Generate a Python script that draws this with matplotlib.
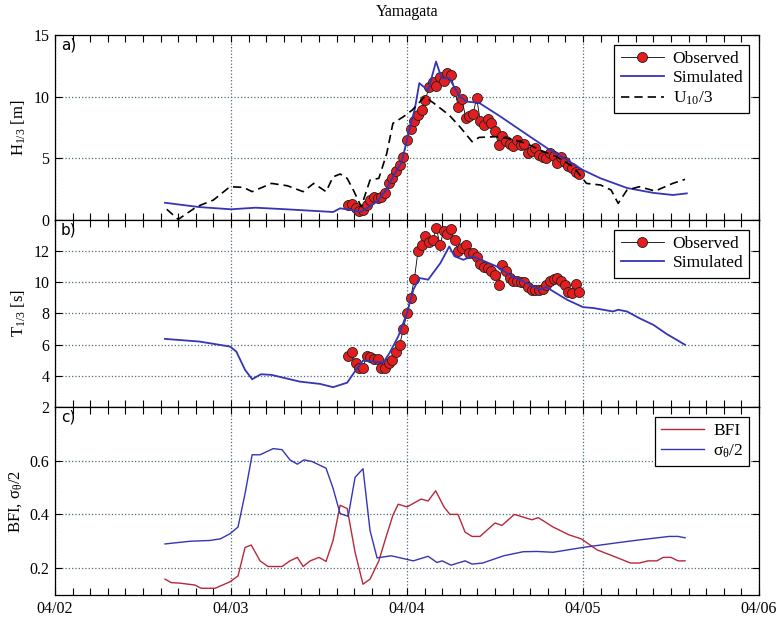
import numpy as np
import matplotlib
matplotlib.use('Agg')
import matplotlib.pyplot as plt
from matplotlib.ticker import MultipleLocator

plt.rcParams['font.family'] = ['Liberation Serif', 'DejaVu Serif']
plt.rcParams['mathtext.fontset'] = 'custom'
plt.rcParams['mathtext.rm'] = 'Liberation Serif'
plt.rcParams['mathtext.it'] = 'Liberation Serif:italic'

# time axis: days since 04/02 00:00
day_ticks = [0, 1, 2, 3, 4]
day_labels = ['04/02', '04/03', '04/04', '04/05', '04/06']

# observations every 30 min from 04/03 16:00
obs_t = np.arange(40.0, 72.0, 0.5) / 24.0
obs_h = [1.2, 1.3, 1.0, 0.7, 0.8, 1.2, 1.6, 1.9, 1.8, 1.9,
         2.2, 3.0, 3.4, 4.0, 4.5, 5.1, 6.5, 7.4, 8.0, 8.5,
         8.9, 9.7, 10.8, 11.2, 10.9, 11.6, 11.3, 11.9, 11.8, 10.5,
         9.2, 9.8, 8.3, 8.4, 8.6, 9.9, 8.0, 7.7, 8.2, 7.9,
         7.2, 6.1, 6.8, 6.4, 6.2, 6.0, 6.5, 6.1, 6.2, 5.4,
         5.6, 5.8, 5.3, 5.1, 5.0, 5.4, 5.2, 4.6, 5.1, 4.7,
         4.4, 4.2, 3.9, 3.7]
obs_tp = [5.3, 5.5, 4.8, 4.5, 4.5, 5.3, 5.2, 5.1, 5.1, 4.5,
          4.5, 4.8, 5.0, 5.5, 6.0, 7.0, 8.0, 9.0, 10.2, 12.0,
          12.4, 13.0, 12.6, 12.7, 13.5, 12.4, 13.3, 13.1, 13.4, 12.7,
          12.0, 12.2, 12.4, 11.9, 11.9, 11.6, 11.2, 11.0, 10.9, 10.7,
          10.5, 9.8, 11.1, 10.7, 10.3, 10.1, 10.1, 10.0, 10.0, 9.7,
          9.5, 9.5, 9.5, 9.6, 9.8, 10.1, 10.2, 10.3, 10.1, 9.8,
          9.4, 9.3, 9.9, 9.4]

sim_h_t = [0.625, 0.82, 1.0, 1.14, 1.34, 1.58, 1.62, 1.69, 1.74, 1.83, 1.88, 1.92, 1.97,
           2.006, 2.045, 2.07, 2.12, 2.165, 2.197, 2.24, 2.30, 2.34, 2.41, 2.53, 2.70,
           2.81, 2.91, 3.0, 3.10, 3.25, 3.40, 3.51, 3.59]
sim_h = [1.4, 1.05, 0.87, 1.0, 0.85, 0.65, 0.95, 0.8, 0.67, 1.5, 2.4, 3.5, 4.7,
         6.9, 9.05, 11.1, 10.5, 12.85, 11.5, 11.5, 10.0, 9.6, 9.5, 8.4, 6.75,
         5.7, 4.87, 4.05, 3.38, 2.6, 2.2, 2.03, 2.16]

u10_t = [0.635, 0.70, 0.805, 0.90, 0.994, 1.07, 1.12, 1.23, 1.32, 1.41, 1.47, 1.54, 1.58,
         1.62, 1.66, 1.695, 1.74, 1.79, 1.84, 1.885, 1.92, 1.98, 2.03, 2.10, 2.15, 2.24,
         2.30, 2.37, 2.41, 2.51, 2.585, 2.68, 2.755, 2.85, 2.945, 3.02, 3.10, 3.16, 3.20,
         3.25, 3.32, 3.41, 3.51, 3.58]
u10 = [0.87, 0.05, 1.08, 1.62, 2.7, 2.65, 2.3, 2.97, 2.78, 2.3, 2.97, 2.3, 3.5,
       3.73, 3.38, 2.43, 1.08, 3.24, 3.38, 5.4, 7.84, 8.38, 8.92, 10.0, 9.5, 8.5,
       7.57, 6.35, 6.7, 6.76, 6.6, 6.2, 5.68, 5.13, 4.32, 2.97, 2.84, 2.43, 1.35,
       2.43, 2.7, 2.35, 2.97, 3.3]

sim_tp_t = [0.625, 0.82, 0.994, 1.03, 1.08, 1.12, 1.17, 1.23, 1.39, 1.506, 1.58, 1.66, 1.71,
            1.75, 1.865, 1.90, 1.95, 2.0, 2.036, 2.07, 2.12, 2.19, 2.24, 2.27, 2.32, 2.37,
            2.41, 2.51, 2.60, 2.68, 2.755, 2.79, 2.91, 3.0, 3.06, 3.17, 3.20, 3.25, 3.32,
            3.40, 3.475, 3.58]
sim_tp = [6.37, 6.2, 5.88, 5.56, 4.38, 3.78, 4.1, 4.06, 3.63, 3.48, 3.27, 3.56, 4.38,
          4.98, 4.85, 5.45, 6.52, 8.03, 9.52, 10.28, 10.17, 11.24, 12.3, 11.67, 11.45, 11.67,
          11.5, 11.02, 10.38, 9.95, 9.52, 9.7, 8.88, 8.41, 8.35, 8.13, 8.24, 8.13, 7.7,
          7.27, 6.69, 5.99]

bfi_t = [0.625, 0.66, 0.71, 0.795, 0.83, 0.91, 0.994, 1.04, 1.08, 1.115, 1.165, 1.21, 1.29,
         1.335, 1.377, 1.41, 1.45, 1.50, 1.54, 1.58, 1.62, 1.66, 1.705, 1.75, 1.79, 1.84,
         1.875, 1.92, 1.95, 2.0, 2.08, 2.12, 2.163, 2.21, 2.244, 2.29, 2.33, 2.37, 2.415,
         2.5, 2.54, 2.61, 2.71, 2.746, 2.83, 2.92, 2.99, 3.08, 3.19, 3.27, 3.32, 3.37,
         3.42, 3.456, 3.50, 3.54, 3.58]
bfi = [0.159, 0.146, 0.144, 0.137, 0.125, 0.125, 0.149, 0.171, 0.277, 0.286, 0.227, 0.206, 0.206,
       0.227, 0.24, 0.206, 0.227, 0.24, 0.225, 0.303, 0.434, 0.422, 0.259, 0.14, 0.159, 0.227,
       0.303, 0.397, 0.438, 0.428, 0.457, 0.45, 0.488, 0.428, 0.40, 0.40, 0.334, 0.318, 0.318,
       0.368, 0.359, 0.40, 0.38, 0.388, 0.353, 0.324, 0.309, 0.268, 0.24, 0.219, 0.219, 0.227,
       0.227, 0.24, 0.24, 0.227, 0.227]

sig_t = [0.625, 0.767, 0.88, 0.94, 0.994, 1.04, 1.08, 1.12, 1.165, 1.24, 1.29, 1.335, 1.377,
         1.415, 1.46, 1.54, 1.58, 1.62, 1.666, 1.705, 1.75, 1.79, 1.83, 1.91, 2.036, 2.12,
         2.17, 2.20, 2.25, 2.33, 2.37, 2.43, 2.55, 2.66, 2.74, 2.83, 3.0, 3.19, 3.32, 3.49,
         3.54, 3.58]
sig_half = [0.29, 0.30, 0.303, 0.309, 0.328, 0.353, 0.478, 0.622, 0.622, 0.645, 0.641, 0.603, 0.587,
            0.603, 0.597, 0.572, 0.497, 0.403, 0.393, 0.538, 0.57, 0.34, 0.238, 0.246, 0.227, 0.244,
            0.221, 0.227, 0.211, 0.227, 0.215, 0.219, 0.246, 0.261, 0.262, 0.259, 0.277, 0.294, 0.305,
            0.318, 0.318, 0.313]

RED = '#e41e1e'
BLUE = '#3535b5'
DARKRED = '#b8283c'
GRID = '#4f6b78'

fig = plt.figure(figsize=(7.77, 6.17), dpi=100)
ax1 = fig.add_axes([0.0708, 0.6434, 0.906, 0.2998])
ax2 = fig.add_axes([0.0708, 0.3404, 0.906, 0.3030])
ax3 = fig.add_axes([0.0708, 0.0357, 0.906, 0.3047])

obs_style = dict(color='black', lw=0.6, marker='o', ms=7.2, mfc=RED, mec='#202020', mew=0.6)

ax1.plot(obs_t, obs_h, label='Observed', **obs_style)
ax1.plot(sim_h_t, sim_h, color=BLUE, lw=1.3, label='Simulated')
ax1.plot(u10_t, u10, color='black', lw=1.2, ls=(0, (5, 3)), label='U$_\\mathregular{10}$/3')
ax1.set_ylim(0, 15)
ax1.set_yticks([0, 5, 10, 15])
ax1.set_ylabel('H$_\\mathregular{1/3}$ [m]', fontsize=12)
ax1.set_title('Yamagata', fontsize=11.5, pad=14)

ax2.plot(obs_t, obs_tp, label='Observed', **obs_style)
ax2.plot(sim_tp_t, sim_tp, color=BLUE, lw=1.3, label='Simulated')
ax2.set_ylim(2, 14)
ax2.set_yticks([2, 4, 6, 8, 10, 12])
ax2.set_ylabel('T$_\\mathregular{1/3}$ [s]', fontsize=12)

ax3.plot(bfi_t, bfi, color=DARKRED, lw=1.0, label='BFI')
ax3.plot(sig_t, sig_half, color=BLUE, lw=1.0, label='σ$_\\mathregular{θ}$/2')
ax3.set_ylim(0.1, 0.8)
ax3.set_yticks([0.2, 0.4, 0.6])
ax3.set_ylabel('BFI, σ$_\\mathregular{θ}$/2', fontsize=12)

for ax, tag in zip([ax1, ax2, ax3], ['a)', 'b)', 'c)']):
    ax.set_xlim(0, 4)
    ax.set_xticks(day_ticks)
    ax.xaxis.set_minor_locator(MultipleLocator(0.1))
    ax.tick_params(which='both', direction='in', top=True, right=True, length=5, width=0.8,
                   labelsize=11.5, pad=4)
    ax.grid(True, which='major', ls=':', color=GRID, lw=0.9)
    for s in ax.spines.values():
        s.set_linewidth(0.9)
    ax.text(0.008, 0.985, tag, transform=ax.transAxes, ha='left', va='top',
            fontsize=11, family='DejaVu Sans')
    if ax is ax3:
        ax.set_xticklabels(day_labels)
    else:
        ax.set_xticklabels([])

leg_kw = dict(loc='upper right', fontsize=12.5, fancybox=False, framealpha=1, edgecolor='black',
              handlelength=2.5, handletextpad=0.5, labelspacing=0.2, borderaxespad=0.55,
              borderpad=0.35)
for ax in (ax1, ax2, ax3):
    lg = ax.legend(**leg_kw)
    lg.get_frame().set_linewidth(0.9)

fig.savefig('out.png', dpi=100)
